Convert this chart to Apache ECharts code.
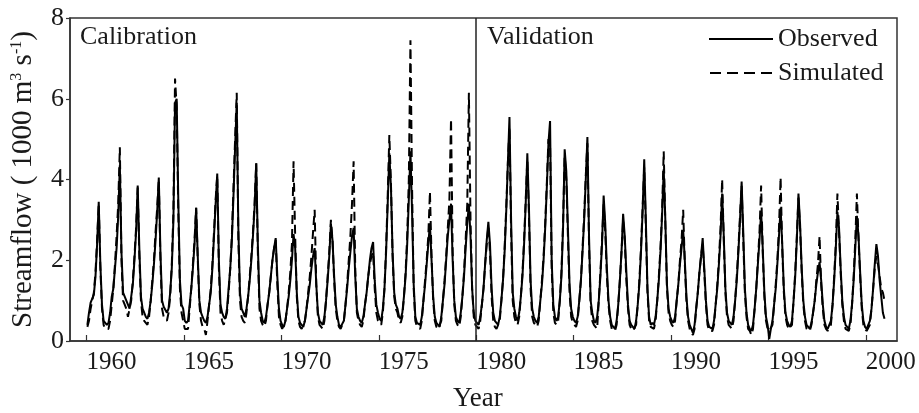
<!DOCTYPE html>
<html>
<head>
<meta charset="utf-8">
<script src="https://cdn.jsdelivr.net/npm/echarts@6/dist/echarts.min.js"></script>
<style>
html,body{margin:0;padding:0;background:#fff;}
#chart{width:919px;height:413px;}
</style>
</head>
<body>
<div id="chart"></div>
<script>
// Years of record (monthly data, Jan..Dec)
const years = [1960,1961,1962,1963,1964,1965,1966,1967,1968,1969,
               1970,1971,1972,1973,1974,1975,1976,1977,1978,1979,
               1980,1981,1982,1983,1984,1985,1986,1987,1988,1989,
               1990,1991,1992,1993,1994,1995,1996,1997,1998,1999,2000];

// Observed monthly streamflow (1000 m3/s), one row per year
const observed = [
 [0.40,0.70,0.95,1.05,1.15,1.6,2.4,3.45,1.9,0.9,0.5,0.45],
 [0.40,0.45,0.7,1.1,1.3,1.8,2.3,3.1,4.35,2.2,1.2,1.1],
 [1.0,0.9,0.8,1.1,1.4,2.0,2.7,3.85,2.3,1.1,0.8,0.7],
 [0.6,0.55,0.7,1.0,1.4,1.9,2.5,3.2,4.05,2.2,1.0,0.85],
 [0.85,0.7,0.8,1.2,1.8,3.0,5.9,6.0,3.5,1.5,0.9,0.8],
 [0.5,0.45,0.5,0.9,1.3,1.8,2.4,3.3,2.1,1.0,0.7,0.6],
 [0.5,0.45,0.6,0.9,1.2,1.8,2.6,3.4,4.15,2.0,0.9,0.7],
 [0.6,0.55,0.8,1.3,1.8,2.5,3.6,4.8,5.9,2.8,1.2,0.8],
 [0.7,0.6,0.8,1.1,1.5,2.0,2.6,3.3,4.4,2.4,1.0,0.7],
 [0.5,0.45,0.6,0.9,1.2,1.6,2.0,2.3,2.55,1.6,0.8,0.5],
 [0.4,0.35,0.5,0.8,1.1,1.5,2.0,2.65,2.3,1.2,0.6,0.45],
 [0.4,0.35,0.5,0.8,1.1,1.4,1.8,2.1,2.3,1.4,0.7,0.5],
 [0.45,0.4,0.6,1.0,1.5,2.1,2.9,2.5,1.6,0.9,0.6,0.4],
 [0.35,0.35,0.5,0.9,1.3,1.8,2.2,2.6,2.8,1.6,0.8,0.6],
 [0.5,0.45,0.6,0.9,1.2,1.6,2.0,2.3,2.45,1.5,0.9,0.7],
 [0.55,0.5,0.8,1.3,2.2,3.4,4.65,3.8,2.2,1.2,0.9,0.8],
 [0.6,0.55,0.7,1.1,1.6,2.4,3.5,4.7,3.2,1.4,0.6,0.45],
 [0.45,0.4,0.6,1.0,1.4,1.9,2.4,2.9,2.0,1.1,0.6,0.45],
 [0.4,0.35,0.6,1.0,1.4,2.0,2.6,3.0,3.4,2.0,1.0,0.6],
 [0.5,0.45,0.7,1.1,1.6,2.3,2.9,3.4,2.6,1.3,0.7,0.5],
 [0.45,0.4,0.6,0.9,1.3,1.9,2.5,2.95,2.4,1.3,0.7,0.5],
 [0.45,0.4,0.6,1.0,1.5,2.2,3.2,4.4,5.55,3.0,1.2,0.8],
 [0.6,0.5,0.7,1.1,1.6,2.4,3.4,4.65,3.3,1.5,0.8,0.6],
 [0.5,0.45,0.6,1.0,1.4,2.0,2.8,3.8,4.9,5.45,2.0,0.9],
 [0.6,0.5,0.6,1.0,1.6,2.8,4.75,4.2,2.8,1.4,0.8,0.6],
 [0.5,0.45,0.6,1.0,1.5,2.2,3.0,4.0,5.05,2.6,1.0,0.7],
 [0.5,0.45,0.6,1.0,1.6,2.4,3.6,2.9,1.8,1.0,0.6,0.4],
 [0.35,0.3,0.5,0.9,1.5,2.2,3.15,2.6,1.7,0.9,0.5,0.4],
 [0.35,0.3,0.5,0.9,1.4,2.2,3.2,4.5,3.0,1.3,0.6,0.4],
 [0.45,0.4,0.6,1.0,1.5,2.2,3.1,4.25,3.0,1.4,0.8,0.6],
 [0.5,0.45,0.6,1.0,1.4,1.9,2.3,2.75,2.0,1.1,0.6,0.4],
 [0.3,0.2,0.4,0.8,1.2,1.7,2.1,2.55,1.8,1.0,0.5,0.35],
 [0.35,0.3,0.5,0.9,1.3,1.9,2.6,3.65,2.6,1.3,0.7,0.5],
 [0.45,0.4,0.6,1.0,1.5,2.2,3.0,3.95,2.7,1.3,0.7,0.4],
 [0.3,0.25,0.4,0.8,1.3,1.9,2.5,3.2,2.3,1.2,0.6,0.4],
 [0.05,0.3,0.5,0.9,1.3,1.9,2.6,3.3,2.4,1.3,0.7,0.5],
 [0.4,0.35,0.5,1.0,1.6,2.5,3.65,2.9,1.8,1.0,0.6,0.4],
 [0.35,0.3,0.45,0.7,1.0,1.4,1.7,1.95,1.5,0.9,0.5,0.35],
 [0.3,0.3,0.5,0.9,1.5,2.3,3.2,2.8,1.8,1.0,0.6,0.4],
 [0.35,0.3,0.5,0.9,1.5,2.3,3.1,2.6,1.7,0.9,0.5,0.35],
 [0.3,0.3,0.5,0.8,1.3,1.9,2.4,2.1,1.5,1.1,0.7,0.55]
];

// Simulated monthly streamflow (1000 m3/s), one row per year
const simulated = [
 [0.35,0.5,0.8,1.0,1.2,1.7,2.5,3.4,1.8,0.8,0.4,0.3],
 [0.3,0.3,0.5,0.9,1.3,1.9,2.6,3.4,4.8,2.0,1.0,0.9],
 [0.8,0.6,0.6,1.0,1.5,2.1,2.8,3.8,2.1,1.0,0.6,0.5],
 [0.45,0.4,0.6,1.0,1.5,2.0,2.7,3.3,4.0,2.0,0.8,0.6],
 [0.6,0.5,0.7,1.1,1.9,3.2,6.5,5.8,3.2,1.3,0.7,0.5],
 [0.3,0.3,0.3,0.8,1.3,1.9,2.5,3.3,2.0,0.9,0.5,0.35],
 [0.3,0.15,0.5,0.9,1.3,1.9,2.7,3.5,4.1,1.8,0.7,0.5],
 [0.4,0.4,0.7,1.2,1.8,2.6,3.8,5.0,6.15,2.5,1.0,0.6],
 [0.5,0.45,0.7,1.1,1.6,2.1,2.7,3.4,4.4,2.2,0.8,0.5],
 [0.4,0.35,0.5,0.9,1.2,1.6,2.0,2.3,2.5,1.4,0.6,0.4],
 [0.3,0.3,0.5,0.8,1.2,1.7,2.4,4.45,2.6,1.1,0.5,0.35],
 [0.3,0.3,0.5,0.8,1.2,1.6,2.1,2.7,3.25,1.4,0.6,0.4],
 [0.35,0.3,0.5,1.0,1.6,2.2,3.0,2.5,1.5,0.8,0.5,0.35],
 [0.3,0.3,0.5,0.9,1.4,2.0,2.6,3.4,4.45,1.8,0.7,0.5],
 [0.4,0.35,0.5,0.9,1.2,1.6,1.9,2.1,2.2,1.3,0.7,0.5],
 [0.45,0.4,0.7,1.3,2.3,3.6,5.1,3.9,2.1,1.1,0.8,0.7],
 [0.5,0.45,0.6,1.1,1.7,2.6,4.0,7.45,3.8,1.3,0.5,0.35],
 [0.35,0.3,0.5,1.0,1.5,2.0,2.6,3.7,2.1,1.0,0.5,0.35],
 [0.3,0.3,0.5,1.0,1.5,2.1,2.8,3.5,5.5,2.2,0.9,0.5],
 [0.4,0.35,0.6,1.1,1.7,2.5,3.4,6.15,3.0,1.3,0.6,0.4],
 [0.35,0.3,0.5,0.9,1.3,1.9,2.4,2.85,2.2,1.1,0.5,0.35],
 [0.3,0.3,0.5,1.0,1.5,2.3,3.3,4.4,5.3,2.7,1.0,0.6],
 [0.45,0.4,0.6,1.1,1.7,2.5,3.5,4.5,3.1,1.3,0.6,0.45],
 [0.4,0.35,0.5,1.0,1.5,2.1,2.9,3.9,5.0,4.9,1.8,0.7],
 [0.45,0.4,0.5,1.0,1.7,2.9,4.6,4.0,2.6,1.2,0.6,0.45],
 [0.4,0.35,0.5,1.0,1.5,2.3,3.1,4.1,4.9,2.4,0.9,0.5],
 [0.4,0.35,0.3,1.0,1.7,2.5,3.4,2.7,1.6,0.9,0.5,0.3],
 [0.3,0.25,0.4,0.9,1.5,2.2,3.0,2.5,1.5,0.8,0.4,0.3],
 [0.25,0.25,0.4,0.9,1.5,2.3,3.3,4.3,2.8,1.2,0.5,0.35],
 [0.35,0.3,0.5,1.0,1.6,2.3,3.2,4.7,2.9,1.3,0.7,0.5],
 [0.4,0.35,0.5,1.0,1.4,2.0,2.5,3.25,1.9,1.0,0.5,0.3],
 [0.2,0.15,0.3,0.8,1.2,1.7,2.1,2.4,1.7,0.9,0.4,0.25],
 [0.25,0.25,0.4,0.9,1.4,2.0,2.8,4.0,2.5,1.2,0.6,0.4],
 [0.35,0.3,0.5,1.0,1.6,2.3,3.1,3.85,2.5,1.2,0.6,0.3],
 [0.25,0.15,0.3,0.8,1.3,2.0,2.7,3.85,2.2,1.1,0.5,0.3],
 [0.25,0.25,0.4,0.9,1.4,2.0,2.8,4.05,2.3,1.2,0.6,0.4],
 [0.3,0.3,0.4,1.0,1.7,2.6,3.55,2.8,1.7,0.9,0.5,0.3],
 [0.3,0.25,0.4,0.7,1.0,1.5,1.9,2.6,1.4,0.8,0.4,0.3],
 [0.25,0.25,0.4,0.9,1.6,2.4,3.65,2.7,1.7,0.9,0.5,0.3],
 [0.3,0.25,0.4,0.9,1.6,2.5,3.65,2.5,1.6,0.8,0.4,0.3],
 [0.25,0.25,0.4,0.8,1.3,1.8,2.1,1.9,1.6,1.3,1.2,1.0]
];

const xTickYears = [1960,1965,1970,1975,1980,1985,1990,1995,2000];
const splitYear = 1980;           // Calibration | Validation boundary
const seriesNames = ['Observed','Simulated'];
const periodLabels = ['Calibration','Validation'];

function toPairs(rows){
  const out = [];
  rows.forEach((row, i) => {
    row.forEach((v, m) => { out.push([years[i] + (m + 0.5) / 12, v]); });
  });
  return out;
}

const FONT = "'Liberation Serif','Times New Roman',serif";
const TXT = '#1a1a1a';
const ICON_SOLID = 'path://M0,0H64V2H0Z';
const ICON_DASH = 'path://M0,0H11V2H0Z M17,0H28V2H17Z M34,0H45V2H34Z M51,0H62V2H51Z';

const chart = echarts.init(document.getElementById('chart'), null, {renderer:'canvas'});
chart.setOption({
  animation: false,
  backgroundColor: '#fff',
  grid: {left:70, right:22, top:18, bottom:72, show:true, borderColor:'#333', borderWidth:1.5, backgroundColor:'transparent'},
  legend: {
    data: [{name:seriesNames[0], icon:ICON_SOLID}, {name:seriesNames[1], icon:ICON_DASH}],
    orient:'vertical', left:704, top:21,
    itemWidth:64, itemHeight:2, itemGap:8,
    textStyle:{fontFamily:FONT, fontSize:26, color:TXT}
  },
  xAxis: {
    type:'value', min:1959.15, max:2001.6,
    axisLine:{show:true, lineStyle:{color:'#333', width:1.5}},
    axisTick:{show:true, inside:true, length:6, customValues:xTickYears, lineStyle:{color:'#333', width:1.2}},
    axisLabel:{show:true, customValues:xTickYears, align:'left', margin:9, fontFamily:FONT, fontSize:25, color:TXT,
      formatter: v => String(v)},
    splitLine:{show:false}
  },
  yAxis: {
    type:'value', min:0, max:8, interval:2,
    axisLine:{show:true, lineStyle:{color:'#333', width:1.5}},
    axisTick:{show:true, inside:false, length:4, lineStyle:{color:'#333', width:1.2}},
    axisLabel:{margin:6, fontFamily:FONT, fontSize:26, color:TXT},
    splitLine:{show:false},
    name:'{a|Streamflow ( 1000 m}{s|3}{a| s}{s|-1}{a|)}',
    nameLocation:'middle', nameRotate:90, nameGap:32,
    nameTextStyle:{
      rich:{
        a:{fontFamily:FONT, fontSize:29, color:TXT},
        s:{fontFamily:FONT, fontSize:16, color:TXT, verticalAlign:'top', padding:[0,0,11,0]}
      }
    }
  },
  graphic: [
    {type:'text', left:80, top:24, style:{text:periodLabels[0], font:"26px 'Liberation Serif', serif", fill:TXT}},
    {type:'text', left:487, top:24, style:{text:periodLabels[1], font:"26px 'Liberation Serif', serif", fill:TXT}},
    {type:'text', left:453, top:385, style:{text:'Year', font:"27px 'Liberation Serif', serif", fill:TXT}}
  ],
  series: [
    {
      name:seriesNames[0], type:'line', data:toPairs(observed), symbol:'none',
      lineStyle:{color:'#000', width:2, type:'solid'}, itemStyle:{color:'#000'},
      markLine:{silent:true, symbol:'none', label:{show:false},
        lineStyle:{color:'#222', width:1.5, type:'solid'}, data:[{xAxis:splitYear}]}
    },
    {
      name:seriesNames[1], type:'line', data:toPairs(simulated), symbol:'none',
      lineStyle:{color:'#000', width:2, type:[9,5]}, itemStyle:{color:'#000'}
    }
  ]
});
</script>
</body>
</html>
